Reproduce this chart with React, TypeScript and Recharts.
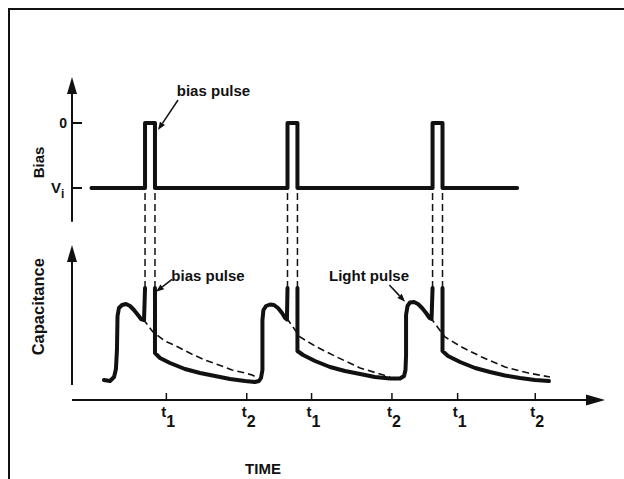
import React from "react";
import { ComposedChart, Line, XAxis, YAxis, ReferenceLine, ReferenceDot } from "recharts";

const INK = "#111";
const FONT = "'Liberation Sans', Arial, sans-serif";

// Bias waveform: Vi = -1, 0 V = 0, time in arbitrary units
const biasStart = 1.35;
const biasEnd = 30.9;
const biasVi = -1;
const biasZero = 0;
const pulseOn = [5.07, 14.96, 25.03];
const pulseOff = [5.76, 15.65, 25.72];

// Capacitance transient (null = not drawn while the bias pulse is on)
const capT = [
  2.22, 2.64, 2.92, 3.05, 3.12, 3.16, 3.26, 3.47, 3.75, 4.03, 4.3, 4.58, 4.79, 5.0, 5.07,
  5.4,
  5.76, 5.76, 6.11, 6.8, 7.84, 8.89, 9.93, 10.97, 12.01, 12.7, 12.98, 13.12, 13.22, 13.22, 13.29, 13.47,
  13.75, 14.02, 14.3, 14.58, 14.79, 14.92, 14.96,
  15.3,
  15.65, 15.65, 16.04, 16.87, 17.91, 18.95, 20.0, 21.03, 22.08, 22.77, 23.05, 23.15, 23.19, 23.19, 23.29,
  23.46, 23.74, 24.02, 24.3, 24.58, 24.82, 24.96, 25.03,
  25.4,
  25.72, 25.72, 26.1, 26.94, 27.98, 29.02, 30.06, 31.1, 32.14, 33.11,
];
const capC = [
  2.0, 1.9, 2.3, 3.1, 5.0, 8.4, 9.2, 9.5, 9.6, 9.4, 9.0, 8.5, 8.1, 8.0, 11.2,
  null,
  11.2, 4.7, 4.2, 3.7, 3.1, 2.7, 2.4, 2.1, 1.9, 1.8, 1.9, 2.2, 3.0, 8.0, 9.0, 9.4,
  9.55, 9.5, 9.2, 8.7, 8.2, 8.05, 11.2,
  null,
  11.2, 4.9, 4.5, 3.9, 3.3, 2.9, 2.6, 2.3, 2.15, 2.15, 2.4, 3.0, 4.5, 8.5, 9.4,
  9.75, 9.8, 9.6, 9.2, 8.7, 8.2, 8.1, 11.2,
  null,
  11.2, 4.9, 4.4, 3.8, 3.2, 2.8, 2.45, 2.2, 2.0, 1.9,
];

// Dashed decay that the transient would follow without the bias pulse
const decayT = [
  4.93, 5.62, 6.46, 7.36, 8.3, 9.23, 10.2, 11.11, 12.0, 12.5, 12.91,
  13.9,
  14.9, 15.83, 16.99, 18.38, 20.0, 21.38, 22.08,
  23.5,
  24.85, 25.89, 27.05, 28.44, 30.06, 31.68, 33.18,
];
const decayC = [
  8.1, 6.8, 5.9, 5.3, 4.6, 4.0, 3.5, 3.0, 2.7, 2.5, 2.2,
  null,
  8.2, 6.3, 5.3, 4.3, 3.2, 2.6, 2.3,
  null,
  8.3, 6.3, 5.3, 4.3, 3.3, 2.7, 2.3,
];

const spikeTop = 11.2;
const linkTop = 20.7;

const timeTicks = [6.55, 12.13, 16.63, 22.21, 26.77, 32.16];
const timeTickSubs = ["1", "2", "1", "2", "1", "2"];

const biasData: { t: number; b: number }[] = [{ t: biasStart, b: biasVi }];
pulseOn.forEach((on, i) => {
  biasData.push(
    { t: on, b: biasVi },
    { t: on, b: biasZero },
    { t: pulseOff[i], b: biasZero },
    { t: pulseOff[i], b: biasVi }
  );
});
biasData.push({ t: biasEnd, b: biasVi });

const capData = capT.map((t, i) => ({ t, c: capC[i] }));
const decayData = decayT.map((t, i) => ({ t, c: decayC[i] }));
const linkEdges = [...pulseOn, ...pulseOff];

const arrowShape = (len: number, half: number) => (p: any) => {
  const { x1, y1, x2, y2, strokeWidth } = p;
  const a = Math.atan2(y2 - y1, x2 - x1);
  const c = Math.cos(a);
  const s = Math.sin(a);
  const bx = x2 - len * c;
  const by = y2 - len * s;
  return (
    <g>
      <line x1={x1} y1={y1} x2={bx} y2={by} stroke={INK} strokeWidth={strokeWidth} />
      <polygon
        points={`${x2},${y2} ${bx - half * s},${by + half * c} ${bx + half * s},${by - half * c}`}
        fill={INK}
      />
    </g>
  );
};

const textShape = (text: string, size: number, rotate = false, anchor = "middle") => (p: any) => (
  <text
    x={p.cx}
    y={p.cy}
    textAnchor={anchor}
    fontSize={size}
    fontWeight="bold"
    fontFamily={FONT}
    fill={INK}
    transform={rotate ? `rotate(-90 ${p.cx} ${p.cy})` : undefined}
  >
    {text}
  </text>
);

const TimeTick = (p: any) => {
  const { x, y, index } = p;
  return (
    <g>
      <line x1={x} y1={y} x2={x} y2={y - 7} stroke={INK} strokeWidth={1.5} />
      <text x={x - 5} y={y + 17} fontSize={15} fontWeight="bold" fontFamily={FONT} fill={INK}>
        t
        <tspan dy={10} fontSize={16}>
          {timeTickSubs[index]}
        </tspan>
      </text>
    </g>
  );
};

const BiasTick = (p: any) => {
  const { x, y, payload } = p;
  const isVi = payload.value === biasVi;
  return (
    <g>
      <line x1={x} y1={y} x2={x + 10} y2={y} stroke={INK} strokeWidth={2} />
      {isVi ? (
        <text x={x - 21} y={y + 5} fontSize={15} fontWeight="bold" fontFamily={FONT} fill={INK}>
          V
          <tspan dy={5} fontSize={12}>
            i
          </tspan>
        </text>
      ) : (
        <text x={x - 5} y={y + 5} textAnchor="end" fontSize={14} fontWeight="bold" fontFamily={FONT} fill={INK}>
          0
        </text>
      )}
    </g>
  );
};

export default function App() {
  return (
    <div style={{ position: "absolute", left: 0, top: 0, width: 624, height: 479, background: "#fff", overflow: "hidden" }}>
      <div
        style={{
          position: "absolute",
          left: 8,
          top: 8,
          width: 640,
          height: 500,
          borderTop: `2px solid ${INK}`,
          borderLeft: `2px solid ${INK}`,
        }}
      />
      <div style={{ position: "absolute", left: 0, top: 0 }}>
        <ComposedChart width={624} height={479} margin={{ top: 60, right: 19, bottom: 49, left: 71 }}>
          <XAxis
            type="number"
            dataKey="t"
            domain={[0, 37]}
            allowDataOverflow
            ticks={timeTicks}
            interval={0}
            height={30}
            axisLine={false}
            tickLine={false}
            tickSize={0}
            tickMargin={0}
            tick={TimeTick}
          />
          <YAxis
            yAxisId="bias"
            type="number"
            domain={[-4.262, 0.969]}
            allowDataOverflow
            ticks={[biasVi, biasZero]}
            interval={0}
            width={1}
            axisLine={false}
            tickLine={false}
            tickSize={0}
            tickMargin={0}
            tick={BiasTick}
          />
          <YAxis yAxisId="cap" type="number" domain={[0, 34]} allowDataOverflow hide />

          {/* axes with arrowheads */}
          <ReferenceLine
            yAxisId="bias"
            segment={[{ x: 0, y: -1.52 }, { x: 0, y: 0.708 }]}
            stroke={INK}
            strokeWidth={2}
            shape={arrowShape(17, 5)}
          />
          <ReferenceLine
            yAxisId="cap"
            segment={[{ x: 0, y: 1.5 }, { x: 0, y: 15.5 }]}
            stroke={INK}
            strokeWidth={2}
            shape={arrowShape(17, 5)}
          />
          <ReferenceLine
            yAxisId="cap"
            segment={[{ x: 0, y: 0 }, { x: 37, y: 0 }]}
            stroke={INK}
            strokeWidth={2}
            shape={arrowShape(19, 5.5)}
          />

          {/* dashed links from bias pulse edges to capacitance */}
          {linkEdges.map((e, i) => (
            <ReferenceLine
              key={`link-${i}`}
              yAxisId="cap"
              segment={[{ x: e, y: linkTop }, { x: e, y: spikeTop }]}
              stroke={INK}
              strokeWidth={1.5}
              strokeDasharray="7 4"
            />
          ))}

          <Line
            yAxisId="cap"
            data={decayData}
            dataKey="c"
            type="linear"
            stroke={INK}
            strokeWidth={1.6}
            strokeDasharray="7 4"
            dot={false}
            activeDot={false}
            isAnimationActive={false}
          />
          <Line
            yAxisId="cap"
            data={capData}
            dataKey="c"
            type="linear"
            stroke={INK}
            strokeWidth={4}
            strokeLinejoin="round"
            strokeLinecap="round"
            dot={false}
            activeDot={false}
            isAnimationActive={false}
          />
          <Line
            yAxisId="bias"
            data={biasData}
            dataKey="b"
            type="linear"
            stroke={INK}
            strokeWidth={4}
            strokeLinejoin="round"
            strokeLinecap="round"
            dot={false}
            activeDot={false}
            isAnimationActive={false}
          />

          {/* annotations */}
          <ReferenceLine
            yAxisId="bias"
            segment={[{ x: 7.36, y: 0.354 }, { x: 5.97, y: -0.108 }]}
            stroke={INK}
            strokeWidth={1.5}
            shape={arrowShape(8, 3)}
          />
          <ReferenceDot yAxisId="bias" x={9.82} y={0.415} r={0} shape={textShape("bias pulse", 15)} />
          <ReferenceLine
            yAxisId="cap"
            segment={[{ x: 6.94, y: 12.07 }, { x: 5.83, y: 10.83 }]}
            stroke={INK}
            strokeWidth={1.5}
            shape={arrowShape(8, 3)}
          />
          <ReferenceDot yAxisId="cap" x={9.44} y={11.9} r={0} shape={textShape("bias pulse", 15)} />
          <ReferenceLine
            yAxisId="cap"
            segment={[{ x: 22.03, y: 11.5 }, { x: 23.12, y: 9.83 }]}
            stroke={INK}
            strokeWidth={1.5}
            shape={arrowShape(8, 3)}
          />
          <ReferenceDot yAxisId="cap" x={20.62} y={11.9} r={0} shape={textShape("Light pulse", 15)} />

          {/* axis titles */}
          <ReferenceDot yAxisId="bias" x={-1.94} y={-0.608} r={0} ifOverflow="visible" shape={textShape("Bias", 15, true)} />
          <ReferenceDot yAxisId="cap" x={-1.94} y={9.33} r={0} ifOverflow="visible" shape={textShape("Capacitance", 16.5, true)} />
          <ReferenceDot yAxisId="cap" x={13.26} y={-7.4} r={0} ifOverflow="visible" shape={textShape("TIME", 15)} />
        </ComposedChart>
      </div>
    </div>
  );
}
